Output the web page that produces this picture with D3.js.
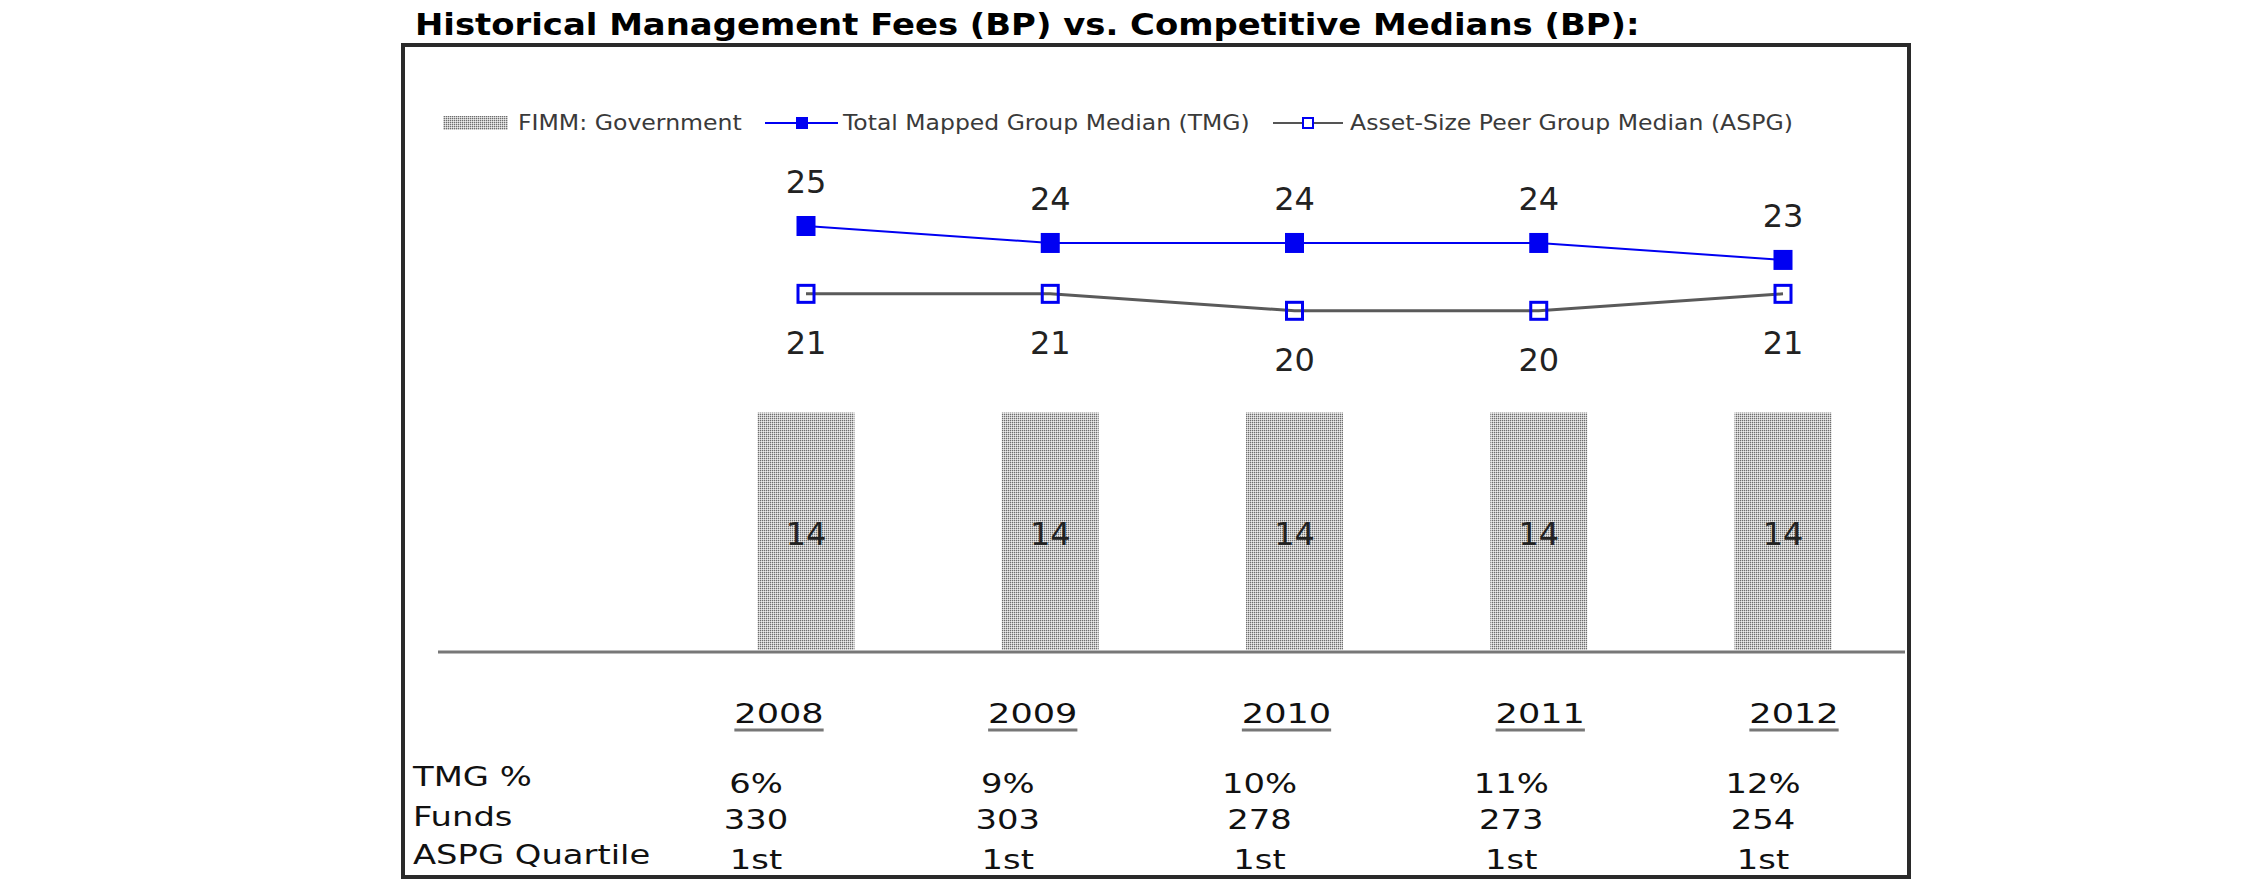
<!DOCTYPE html>
<html><head><meta charset="utf-8">
<script src="https://cdn.jsdelivr.net/npm/d3@7"></script>
<style>html,body{margin:0;padding:0;background:#fff;} svg{display:block;}</style>
</head><body><svg id="c" width="2250" height="895"></svg>
<script>
// ---- data ----
const title = "Historical Management Fees (BP) vs. Competitive Medians (BP):";
const years = ["2008", "2009", "2010", "2011", "2012"];
const seriesNames = ["FIMM: Government", "Total Mapped Group Median (TMG)", "Asset-Size Peer Group Median (ASPG)"];
const fimmGov = [14, 14, 14, 14, 14];
const tmgMedian = [25, 24, 24, 24, 23];
const aspgMedian = [21, 21, 20, 20, 21];
const rowLabels = ["TMG %", "Funds", "ASPG Quartile"];
const tmgPct = ["6%", "9%", "10%", "11%", "12%"];
const funds = ["330", "303", "278", "273", "254"];
const aspgQuartile = ["1st", "1st", "1st", "1st", "1st"];

// ---- layout ----
const svg = d3.select("#c");
const FONT = "'DejaVu Sans', Verdana, sans-serif";
const BLUE = "#0000f2";

const x = d3.scalePoint().domain(years).range([806, 1783]);
const y = d3.scaleLinear().domain([0, 25]).range([650, 226]);
const barW = x.step() * 0.397;
const xYear = d3.scalePoint().domain(years).range([779, 1794]);
const xTab = d3.scalePoint().domain(years).range([756, 1763]);

// stipple pattern for bars
const defs = svg.append("defs");
const pat = defs.append("pattern").attr("id", "dots").attr("patternUnits", "userSpaceOnUse")
  .attr("width", 2).attr("height", 2);
pat.append("rect").attr("width", 2).attr("height", 2).attr("fill", "#c6c6c6");
pat.append("rect").attr("x", 0).attr("y", 0).attr("width", 1).attr("height", 1).attr("fill", "#6e6e6e");
pat.append("rect").attr("x", 1).attr("y", 1).attr("width", 1).attr("height", 1).attr("fill", "#ececec");

// helper: text stretched horizontally
function stext(g, str, px, py, size, opts = {}) {
  const t = g.append("text")
    .attr("font-family", FONT).attr("font-size", size)
    .attr("font-weight", opts.weight || "normal")
    .attr("fill", opts.fill || "#000")
    .attr("text-anchor", opts.anchor || "start")
    .text(str);
  let sx = opts.sx || 1;
  if (opts.width) { sx = opts.width / t.node().getComputedTextLength(); }
  t.attr("transform", `translate(${px},${py}) scale(${sx},1)`);
  return t;
}

// title
stext(svg, title, 415, 35, 30, { weight: "bold", width: 1225, fill: "#000" });

// frame
svg.append("rect").attr("x", 403).attr("y", 45).attr("width", 1506).attr("height", 832)
  .attr("fill", "none").attr("stroke", "#2a2a2a").attr("stroke-width", 4);

// legend
const lg = svg.append("g");
lg.append("rect").attr("x", 443).attr("y", 116).attr("width", 65).attr("height", 14).attr("fill", "url(#dots)");
stext(lg, seriesNames[0], 518, 130, 22, { width: 224, fill: "#3a3a3a" });
lg.append("line").attr("x1", 765).attr("x2", 838).attr("y1", 123).attr("y2", 123).attr("stroke", BLUE).attr("stroke-width", 2);
lg.append("rect").attr("x", 796).attr("y", 117).attr("width", 12).attr("height", 12).attr("fill", BLUE);
stext(lg, seriesNames[1], 843, 130, 22, { width: 407, fill: "#3a3a3a" });
lg.append("line").attr("x1", 1273).attr("x2", 1343).attr("y1", 123).attr("y2", 123).attr("stroke", "#555").attr("stroke-width", 2);
lg.append("rect").attr("x", 1303).attr("y", 118).attr("width", 10).attr("height", 10).attr("fill", "#fff").attr("stroke", BLUE).attr("stroke-width", 2);
stext(lg, seriesNames[2], 1350, 130, 22, { width: 443, fill: "#3a3a3a" });

// bars
const bars = svg.append("g");
bars.selectAll("rect").data(fimmGov).join("rect")
  .attr("x", (d, i) => x(years[i]) - barW / 2)
  .attr("y", d => y(d))
  .attr("width", barW)
  .attr("height", d => y(0) - y(d))
  .attr("fill", "url(#dots)");
fimmGov.forEach((d, i) => {
  stext(bars, String(d), x(years[i]), (y(d) + y(0)) / 2 + 14, 32, { anchor: "middle", fill: "#222" });
});

// baseline
svg.append("line").attr("x1", 438).attr("x2", 1905).attr("y1", y(0) + 2).attr("y2", y(0) + 2)
  .attr("stroke", "#777").attr("stroke-width", 3);

// lines
const lineGen = d3.line().x((d, i) => x(years[i])).y(d => y(d));
svg.append("path").datum(aspgMedian).attr("d", lineGen).attr("fill", "none")
  .attr("stroke", "#5a5a5a").attr("stroke-width", 3);
svg.append("path").datum(tmgMedian).attr("d", lineGen).attr("fill", "none")
  .attr("stroke", BLUE).attr("stroke-width", 2);

// markers
const mk = svg.append("g");
mk.selectAll("rect.tmg").data(tmgMedian).join("rect").attr("class", "tmg")
  .attr("x", (d, i) => x(years[i]) - 9.5).attr("y", d => y(d) - 10)
  .attr("width", 19).attr("height", 20).attr("fill", BLUE);
mk.selectAll("rect.aspg").data(aspgMedian).join("rect").attr("class", "aspg")
  .attr("x", (d, i) => x(years[i]) - 8).attr("y", d => y(d) - 8.5)
  .attr("width", 16).attr("height", 17).attr("fill", "none")
  .attr("stroke", BLUE).attr("stroke-width", 3);

// data labels
tmgMedian.forEach((d, i) => stext(svg, String(d), x(years[i]), y(d) - 33, 32, { anchor: "middle", fill: "#222" }));
aspgMedian.forEach((d, i) => stext(svg, String(d), x(years[i]), y(d) + 60, 32, { anchor: "middle", fill: "#222" }));

// year labels (underlined)
years.forEach(yr => {
  const t = stext(svg, yr, xYear(yr), 723, 27, { anchor: "middle", sx: 1.3, fill: "#111" });
  const w = t.node().getComputedTextLength() * 1.3;
  svg.append("line").attr("x1", xYear(yr) - w / 2).attr("x2", xYear(yr) + w / 2)
    .attr("y1", 730).attr("y2", 730).attr("stroke", "#777").attr("stroke-width", 3);
});

// table
const rowY = [786, 826, 864];
const valY = [793, 829, 869];
const rows = [tmgPct, funds, aspgQuartile];
rowLabels.forEach((lab, r) => {
  stext(svg, lab, 413, rowY[r], 26, { sx: 1.3, fill: "#111" });
  rows[r].forEach((v, i) => stext(svg, v, xTab(years[i]), valY[r], 26, { anchor: "middle", sx: 1.3, fill: "#111" }));
});
</script></body></html>
